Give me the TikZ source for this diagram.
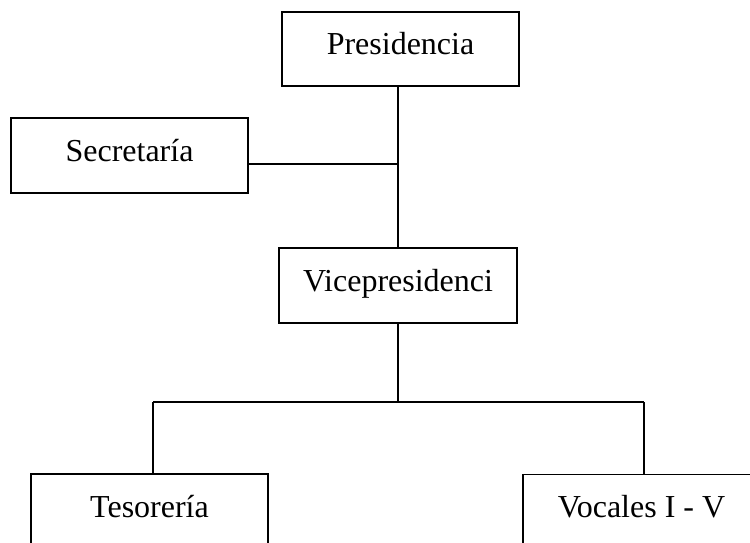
\documentclass[tikz,border=0pt]{standalone}
\usepackage{fontspec}
\setmainfont{Liberation Serif}
\begin{document}
\begin{tikzpicture}[x=1pt,y=-1pt,
  orgbox/.style={draw=black, line width=1.7pt, fill=white, inner sep=0pt,
    minimum width=237pt, minimum height=75pt, text height=18pt, text depth=7pt,
    font=\fontsize{32}{36}\selectfont},
  link/.style={draw=black, line width=1.1pt}]
\useasboundingbox (0,0) rectangle (750,543);
\clip (0,0) rectangle (750,543);
\node[orgbox, minimum height=74pt] (pres) at (400.5,49) {Presidencia};
\node[orgbox] (sec) at (129.5,155.5) {Secretaría};
\node[orgbox, minimum width=238pt] (vice) at (398,285.5) {Vicepresidenci};
\node[orgbox] (tes) at (149.5,511.5) {Tesorería};
\node[orgbox] (voc) at (641.5,512) {Vocales I - V};
\coordinate (tl) at (153,402);
\coordinate (tr) at (644,402);
\coordinate (sj) at ([yshift=-8.5pt]sec.east);
\draw[link] (vice.north) -- (vice.north |- pres.south);
\draw[link] (sj) -- (sj -| vice.north);
\draw[link] (vice.south) -- (vice.south |- tl);
\draw[link] (tl) -- (tr);
\draw[link] (tl) -- (tl |- tes.north);
\draw[link] (tr) -- (tr |- voc.north);
\end{tikzpicture}
\end{document}
